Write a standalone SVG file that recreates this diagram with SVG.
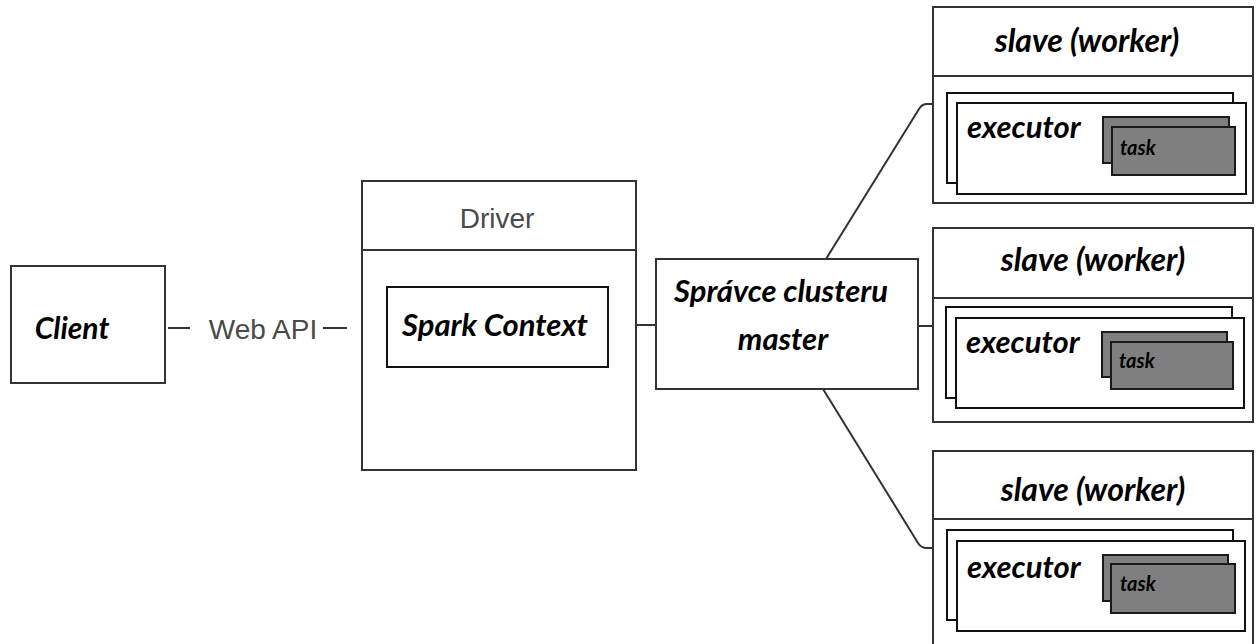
<svg xmlns="http://www.w3.org/2000/svg" width="1258" height="644" viewBox="0 0 1258 644">
  <style>
    .box { fill: #ffffff; stroke: #333333; stroke-width: 2; }
    .inner { fill: #ffffff; stroke: #111111; stroke-width: 2; }
    .task { fill: #7f7f7f; stroke: #1a1a1a; stroke-width: 2; }
    .wire { fill: none; stroke: #333333; stroke-width: 2; }
    .bi { font-family: Lato, "Open Sans", "Liberation Sans", sans-serif; font-weight: bold; font-style: italic; fill: #000000; }
    .plain { font-family: "Liberation Sans", Arial, sans-serif; fill: #4a4a4a; }
  </style>
  <rect x="0" y="0" width="1258" height="644" fill="#ffffff"/>

  <!-- connectors -->
  <g id="connectors">
    <line class="wire" x1="168" y1="328" x2="190" y2="328"/>
    <line class="wire" x1="323" y1="328" x2="347" y2="328"/>
    <line class="wire" x1="636" y1="325" x2="656" y2="325"/>
    <line class="wire" x1="918" y1="326" x2="933" y2="326"/>
    <path class="wire" d="M826 259 L919 109 Q922 104 927 104 L933 104"/>
    <path class="wire" d="M823 389 L918 543 Q921 548 927 548 L933 548"/>
  </g>

  <!-- client -->
  <g id="client">
    <rect class="box" x="11" y="266" width="154" height="117"/>
    <text class="bi" x="72" y="339" font-size="30" text-anchor="middle">Client</text>
  </g>

  <!-- web api label -->
  <g id="webapi">
    <text class="plain" x="263" y="339" font-size="28" text-anchor="middle">Web API</text>
  </g>

  <!-- driver -->
  <g id="driver">
    <rect class="box" x="362" y="181" width="274" height="289"/>
    <line class="wire" x1="362" y1="250" x2="636" y2="250"/>
    <text class="plain" x="497" y="228" font-size="28" text-anchor="middle">Driver</text>
    <rect class="inner" x="387" y="287" width="221" height="80"/>
    <text class="bi" x="495" y="336" font-size="31" text-anchor="middle">Spark Context</text>
  </g>

  <!-- cluster manager -->
  <g id="master">
    <rect class="box" x="656" y="259" width="262" height="130"/>
    <text class="bi" x="781" y="302" font-size="31" text-anchor="middle">Správce clusteru</text>
    <text class="bi" x="783" y="350" font-size="31" text-anchor="middle">master</text>
  </g>

  <!-- worker 1 -->
  <g id="worker1">
    <rect class="box" x="933" y="7" width="320" height="196"/>
    <line class="wire" x1="933" y1="76" x2="1253" y2="76"/>
    <text class="bi" x="1087" y="52" font-size="32" text-anchor="middle">slave (worker)</text>
    <rect class="inner" x="947" y="93" width="286" height="90"/>
    <rect class="inner" x="957" y="103" width="289" height="91"/>
    <text class="bi" x="967" y="138" font-size="31">executor</text>
    <rect class="task" x="1103" y="117" width="126" height="46"/>
    <rect class="task" x="1112" y="127" width="123" height="48"/>
    <text class="bi" x="1120" y="155" font-size="20">task</text>
  </g>

  <!-- worker 2 -->
  <g id="worker2">
    <rect class="box" x="933" y="228" width="320" height="194"/>
    <line class="wire" x1="933" y1="298" x2="1253" y2="298"/>
    <text class="bi" x="1093" y="271" font-size="32" text-anchor="middle">slave (worker)</text>
    <rect class="inner" x="946" y="307" width="286" height="91"/>
    <rect class="inner" x="956" y="318" width="288" height="90"/>
    <text class="bi" x="966" y="353" font-size="31">executor</text>
    <rect class="task" x="1102" y="332" width="125" height="45"/>
    <rect class="task" x="1111" y="342" width="122" height="47"/>
    <text class="bi" x="1119" y="368" font-size="20">task</text>
  </g>

  <!-- worker 3 -->
  <g id="worker3">
    <rect class="box" x="933" y="451" width="320" height="200"/>
    <line class="wire" x1="933" y1="519" x2="1253" y2="519"/>
    <text class="bi" x="1093" y="501" font-size="32" text-anchor="middle">slave (worker)</text>
    <rect class="inner" x="947" y="530" width="286" height="90"/>
    <rect class="inner" x="957" y="541" width="288" height="90"/>
    <text class="bi" x="967" y="578" font-size="31">executor</text>
    <rect class="task" x="1103" y="555" width="125" height="46"/>
    <rect class="task" x="1111" y="564" width="124" height="49"/>
    <text class="bi" x="1120" y="591" font-size="20">task</text>
  </g>
</svg>
